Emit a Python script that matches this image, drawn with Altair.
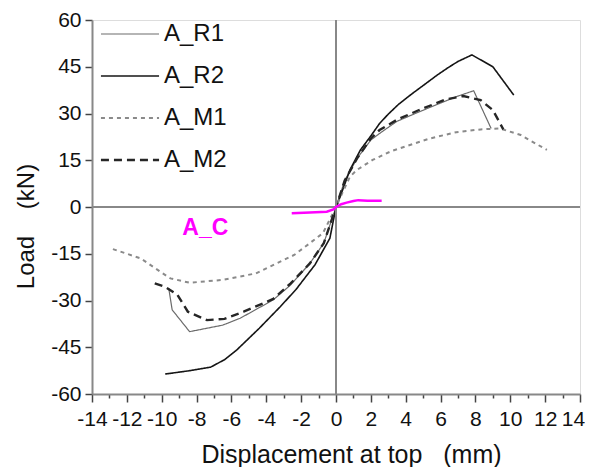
import altair as alt
import pandas as pd

# ---- data ----
series_names = ["A_R1", "A_R2", "A_M1", "A_M2"]

r1_x = [-9.6, -9.4, -8.4, -6.5, -5.5, -3.6, -2.6, -1.5, -0.7, 0.0, 0.5, 1.2, 2.0, 2.5, 3.5, 4.8, 6.9, 7.9, 8.9]
r1_y = [-26.0, -33.0, -40.0, -37.9, -35.7, -29.8, -25.0, -18.1, -11.6, 0.0, 8.5, 15.5, 21.5, 23.6, 27.5, 30.6, 35.4, 37.3, 25.2]

r2_x = [-9.8, -8.5, -7.2, -6.4, -5.7, -4.4, -3.2, -2.3, -1.2, -0.35, 0.0, 0.25, 0.8, 1.4, 2.0, 2.5, 3.0, 3.6, 4.4, 5.2, 5.8, 6.4, 7.0, 7.8, 9.0, 10.2]
r2_y = [-53.6, -52.6, -51.4, -49.0, -45.9, -38.9, -32.0, -26.5, -18.5, -10.0, 0.0, 3.5, 11.9, 18.3, 22.8, 26.8, 29.8, 33.0, 36.5, 39.8, 42.3, 44.6, 46.7, 48.8, 45.0, 35.9]

m1_x = [-12.8, -11.2, -10.1, -9.5, -8.4, -6.5, -4.6, -2.4, -1.5, -0.75, 0.0, 0.4, 0.8, 1.2, 2.1, 3.2, 5.4, 6.9, 8.3, 9.4, 10.6, 12.1]
m1_y = [-13.5, -16.5, -20.7, -22.9, -24.3, -23.4, -21.3, -15.4, -11.6, -8.4, 0.0, 5.0, 9.7, 11.9, 15.1, 18.0, 22.0, 24.0, 24.9, 25.2, 23.1, 18.3]

m2_x = [-10.4, -9.8, -9.1, -8.5, -7.4, -6.4, -5.3, -3.6, -2.6, -1.5, -0.7, 0.0, 0.5, 1.2, 2.0, 2.5, 3.5, 4.8, 6.3, 7.3, 8.3, 9.0, 9.6]
m2_y = [-24.5, -25.6, -28.2, -33.6, -36.3, -35.9, -33.6, -29.5, -24.5, -18.1, -11.6, 0.0, 8.5, 15.5, 22.0, 24.7, 28.0, 31.2, 34.5, 35.6, 34.3, 31.1, 24.9]

ac_x = [-2.54, -1.5, -0.53, -0.15, 0.0, 0.3, 0.61, 1.0, 1.28, 1.8, 2.62]
ac_y = [-2.0, -1.8, -1.5, -0.8, 0.0, 0.9, 1.4, 1.9, 2.2, 2.0, 2.0]

ac_label = ["A_C"]
ac_label_x = [-7.5]
ac_label_y = [-6.7]

x_ticks = list(range(-14, 15))          # majors at even values, minors at odd values
y_ticks = list(range(-60, 61, 15))

rows = []
for name, xs, ys in [("A_R1", r1_x, r1_y), ("A_R2", r2_x, r2_y), ("A_M1", m1_x, m1_y), ("A_M2", m2_x, m2_y)]:
    for i, (xv, yv) in enumerate(zip(xs, ys)):
        rows.append({"series": name, "x": xv, "y": yv, "i": i})
df = pd.DataFrame(rows)
df_ac = pd.DataFrame({"x": ac_x, "y": ac_y, "i": list(range(len(ac_x)))})
df_lab = pd.DataFrame({"label": ac_label, "x": ac_label_x, "y": ac_label_y})

FONT = "Liberation Sans"
GRAY = "#888888"
NB = "\u00a0"

xscale = alt.Scale(domain=[-14, 14], nice=False, zero=False)
yscale = alt.Scale(domain=[-60, 60], nice=False, zero=False)

x_axis = alt.Axis(
    values=x_ticks, tickCount=60,
    title="Displacement at top" + NB * 3 + "(mm)",
    titleFont=FONT, titleFontSize=25, titleFontWeight="normal", titleColor="#111",
    titleX=259, titlePadding=13,
    labelExpr="datum.value % 2 === 0 ? '' + datum.value : ''",
    labelFont=FONT, labelFontSize=21, labelColor="#111", labelPadding=6,
    labelOverlap=False, labelFlush=False,
    labelOffset={"condition": {"test": "datum.value === 14", "value": -7}, "value": 0},
    tickSize={"condition": {"test": "datum.value % 2 === 0", "value": 8}, "value": 4},
    tickColor="#444", tickWidth=1.5,
    domainColor=GRAY, domainWidth=2, grid=False,
)
y_axis = alt.Axis(
    values=y_ticks, tickCount=60,
    title="Load" + NB * 4 + "(kN)",
    titleFont=FONT, titleFontSize=24, titleFontWeight="normal", titleColor="#111",
    titlePadding=12, titleY=206,
    labelExpr="'' + datum.value",
    labelFont=FONT, labelFontSize=21, labelColor="#111", labelPadding=4,
    labelOverlap=False, labelFlush=False,
    tickSize=7, tickColor="#444", tickWidth=1.5,
    domainColor=GRAY, domainWidth=2, grid=False,
)

legend = alt.Legend(
    orient="none", legendX=26, legendY=2, title=None,
    labelFont=FONT, labelFontSize=24, labelColor="#111",
    symbolType="M-4.15,0H4.15", symbolSize=196,
    labelOffset=22, rowPadding=18, padding=0,
)

lines = alt.Chart(df).mark_line().encode(
    x=alt.X("x:Q", scale=xscale, axis=x_axis),
    y=alt.Y("y:Q", scale=yscale, axis=y_axis),
    order="i:Q",
    color=alt.Color("series:N", sort=series_names,
                    scale=alt.Scale(domain=series_names, range=["#6b6b6b", "#151515", "#8a8a8a", "#262626"]),
                    legend=legend),
    strokeDash=alt.StrokeDash("series:N", sort=series_names,
                              scale=alt.Scale(domain=series_names, range=[[1, 0], [1, 0], [4, 4], [8, 5]]),
                              legend=legend),
    strokeWidth=alt.StrokeWidth("series:N", sort=series_names,
                                scale=alt.Scale(domain=series_names, range=[1.2, 2.4, 1.3, 2.2]),
                                legend=legend),
)

zero_v = alt.Chart().mark_rule(color=GRAY, strokeWidth=2).encode(x=alt.datum(0, scale=xscale))
zero_h = alt.Chart().mark_rule(color=GRAY, strokeWidth=2).encode(y=alt.datum(0, scale=yscale))

ac_line = alt.Chart(df_ac).mark_line(color="#ff00ff", strokeWidth=2.5).encode(
    x="x:Q", y="y:Q", order="i:Q"
)
ac_text = alt.Chart(df_lab).mark_text(
    color="#ff00ff", font=FONT, fontSize=23, fontWeight="bold", align="center", baseline="middle"
).encode(x="x:Q", y="y:Q", text="label:N")

chart = alt.layer(lines, zero_v, zero_h, ac_line, ac_text).properties(
    width=488, height=374,
    autosize=alt.AutoSizeParams(type="none"),
    padding={"left": 84, "top": 12, "right": 5, "bottom": 73},
).configure_view(stroke=GRAY, strokeWidth=2).configure(background="white")

chart.save("out.html", embed_options={"renderer": "svg", "actions": False})
